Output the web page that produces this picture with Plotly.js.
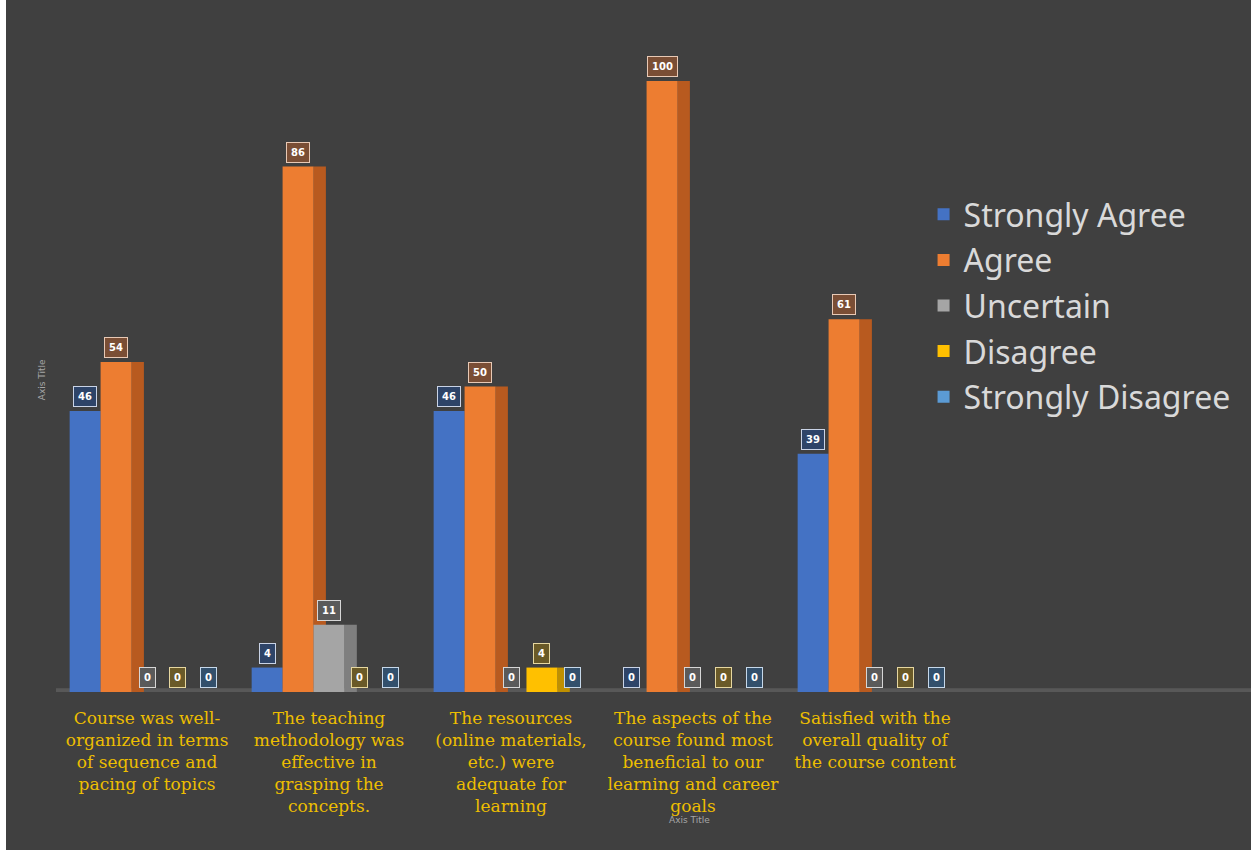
<!DOCTYPE html>
<html>
<head>
<meta charset="utf-8">
<script src="https://cdn.plot.ly/plotly-3.0.1.min.js"></script>
<style>
  html, body { margin: 0; padding: 0; background: #ffffff; }
  #chart { position: absolute; left: 6px; top: 0; width: 1245px; height: 850px; }
</style>
</head>
<body>
<div id="chart"></div>
<script>
// ---- data ----
const categories = [
  "Course was well-<br>organized in terms<br>of sequence and<br>pacing of topics",
  "The teaching<br>methodology was<br>effective in<br>grasping the<br>concepts.",
  "The resources<br>(online materials,<br>etc.) were<br>adequate for<br>learning",
  "The aspects of the<br>course found most<br>beneficial to our<br>learning and career<br>goals",
  "Satisfied with the<br>overall quality of<br>the course content"
];
const seriesNames = ["Strongly Agree", "Agree", "Uncertain", "Disagree", "Strongly Disagree"];
const stronglyAgree    = [46, 4, 46, 0, 39];
const agree            = [54, 86, 50, 100, 61];
const uncertain        = [0, 11, 0, 0, 0];
const disagree         = [0, 0, 4, 0, 0];
const stronglyDisagree = [0, 0, 0, 0, 0];
const seriesValues = [stronglyAgree, agree, uncertain, disagree, stronglyDisagree];

// ---- styles ----
const barColors   = ["#4472C4", "#ED7D31", "#A5A5A5", "#FFC000", "#5B9BD5"];
const sideColors  = ["#2F528F", "#B85A1F", "#7F7F7F", "#BF9000", "#41719C"];
const labelFill   = ["#2e4468", "#7a4e35", "#5a5a5a", "#6a5a28", "#33506c"];
const labelBorder = ["#c9d3e6", "#e8c9b5", "#d6d6d6", "#e6d7a0", "#c6d8ea"];
const groupWidth = 0.85;
const nSeries = seriesNames.length;
const slot = groupWidth / nSeries;
const sideWidth = 0.068;

const traces = [];
seriesNames.forEach((name, i) => {
  const off = -groupWidth / 2 + i * slot;
  // darker side face (pseudo-3D)
  traces.push({
    type: "bar",
    name: name + " side",
    x: categories,
    y: seriesValues[i],
    offset: off + slot,
    width: sideWidth,
    marker: { color: sideColors[i], line: { width: 0 } },
    legendgroup: "g" + i,
    showlegend: false,
    hoverinfo: "skip"
  });
  traces.push({
    type: "bar",
    name: name,
    x: categories,
    y: seriesValues[i],
    offset: off,
    width: slot,
    marker: { color: barColors[i], line: { width: 0 } },
    legendgroup: "g" + i,
    hoverinfo: "y+name"
  });
});

const annotations = [];
seriesValues.forEach((vals, i) => {
  vals.forEach((v, j) => {
    annotations.push({
      x: j + (i - (nSeries - 1) / 2) * slot,
      y: v,
      xref: "x", yref: "y",
      text: "<b>" + v + "</b>",
      showarrow: false,
      yanchor: "bottom",
      yshift: 4,
      font: { family: "DejaVu Sans", size: 10, color: "#ffffff" },
      bgcolor: labelFill[i],
      bordercolor: labelBorder[i],
      borderwidth: 1,
      borderpad: 4
    });
  });
});

// axis titles
annotations.push({
  text: "Axis Title", xref: "paper", yref: "paper",
  x: 0.53, y: -0.19, yanchor: "middle", showarrow: false,
  font: { family: "DejaVu Sans", size: 9, color: "#a6a6a6" }
});
annotations.push({
  text: "Axis Title", xref: "paper", yref: "paper",
  x: -0.0117, y: 0.464, xanchor: "center", yanchor: "middle",
  showarrow: false, textangle: -90,
  font: { family: "DejaVu Sans", size: 9, color: "#a6a6a6" }
});

const layout = {
  width: 1245, height: 850,
  paper_bgcolor: "#404040",
  plot_bgcolor: "#404040",
  margin: { l: 50, r: 0, t: 20, b: 158, autoexpand: false },
  barmode: "overlay",
  xaxis: {
    type: "category",
    range: [-0.5, 6.066],
    showgrid: false, zeroline: false, showline: false,
    ticks: "",
    tickangle: 0,
    tickfont: { family: "DejaVu Serif", size: 17, color: "#EDBE00" },
    ticklabelstandoff: 14,
    automargin: false
  },
  yaxis: {
    range: [0, 110],
    showgrid: false, zeroline: false, showline: false,
    showticklabels: false, ticks: "",
    automargin: false
  },
  shapes: [{
    type: "rect", xref: "paper", yref: "y",
    x0: 0, x1: 1, y0: -1.0, y1: 0.6,
    fillcolor: "#585858", line: { width: 0 }, layer: "below"
  }],
  legend: {
    xref: "container", yref: "container",
    x: 0.737, y: 0.78, xanchor: "left", yanchor: "top",
    font: { family: "Noto Sans", size: 32, color: "#d9d9d9" },
    bgcolor: "rgba(0,0,0,0)",
    traceorder: "grouped",
    tracegroupgap: 1,
    itemwidth: 30
  },
  annotations: annotations,
  showlegend: true
};

Plotly.newPlot("chart", traces, layout, { displayModeBar: false, staticPlot: true });
</script>
</body>
</html>
